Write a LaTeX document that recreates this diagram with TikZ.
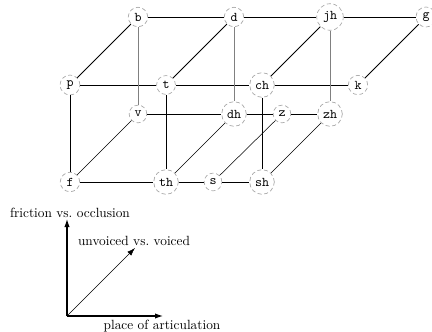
\documentclass[tikz,border=0pt]{standalone}
\usetikzlibrary{arrows.meta}

\begin{document}
\begin{tikzpicture}[
  x=0.75pt, y=-0.75pt,
  phon/.style={circle, draw=black!35, densely dashed, line width=0.5pt, fill=white, inner sep=2.3pt, font=\ttfamily},
  front/.style={line width=0.6pt, draw=black},
  back/.style={line width=0.6pt, draw=black!50},
  low/.style={line width=0.5pt, draw=black},
  depth/.style={line width=0.4pt, draw=black},
  axis/.style={-{Latex[length=6pt,width=4pt]}, line width=0.8pt},
  axisdepth/.style={-{Latex[length=6pt,width=4pt]}, line width=0.4pt},
  lab/.style={inner sep=1pt}
]
\useasboundingbox (0,0) rectangle (432,332);

% back plane, upper row
\node[phon] (b)  at (138,17) {b};
\node[phon] (d)  at (234,17) {d};
\node[phon] (jh) at (330,17) {jh};
\node[phon] (g)  at (426,17) {g};
% front plane, upper row
\node[phon] (p)  at (70,85)  {p};
\node[phon] (t)  at (166,85) {t};
\node[phon] (ch) at (262,85) {ch};
\node[phon] (k)  at (358,85) {k};
% back plane, lower row
\node[phon] (v)  at (138,114) {v};
\node[phon] (dh) at (234,114) {dh};
\node[phon] (z)  at (282,114) {z};
\node[phon] (zh) at (330,114) {zh};
% front plane, lower row
\node[phon] (f)  at (70,182)  {f};
\node[phon] (th) at (166,182) {th};
\node[phon] (s)  at (213,182) {s};
\node[phon] (sh) at (262,182) {sh};

% upper rows and their links
\draw[front] (b) -- (d) -- (jh) -- (g);
\draw[front] (p) -- (t) -- (ch) -- (k);
\draw[front] (p) -- (b);
\draw[front] (t) -- (d);
\draw[front] (ch) -- (jh);
\draw[front] (k) -- (g);

% verticals
\draw[back] (b) -- (v);
\draw[back] (d) -- (dh);
\draw[back] (jh) -- (zh);
\draw[low] (v) -- (dh) -- (z) -- (zh);
\draw[front] (p) -- (f);
\draw[front] (t) -- (th);
\draw[front] (ch) -- (sh);

% lower rows
\draw[front] (f) -- (th) -- (s) -- (sh);
\draw[depth] (f) -- (v);
\draw[depth] (th) -- (dh);
\draw[depth] (s) -- (z);
\draw[depth] (sh) -- (zh);

% axes
\coordinate (o) at (67,316);
\coordinate (up) at (67,219);
\coordinate (right) at (163,316);
\coordinate (diag) at (135,248);
\draw[axis] (o) -- (up);
\draw[axis] (o) -- (right);
\draw[axisdepth] (o) -- (diag);
\node[lab] (fric) at (70,213) {friction vs.\ occlusion};
\node[lab] (voic) at (134,241) {unvoiced vs.\ voiced};
\node[lab] (place) at (162,326) {place of articulation};

\end{tikzpicture}
\end{document}
